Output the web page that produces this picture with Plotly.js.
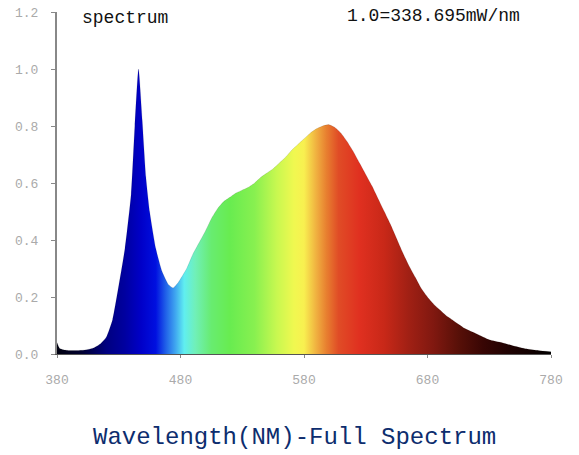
<!DOCTYPE html>
<html>
<head>
<meta charset="utf-8">
<script src="https://cdn.plot.ly/plotly-3.0.1.min.js"></script>
<style>html,body{margin:0;padding:0;background:#fff;}#chart{width:579px;height:455px;}</style>
</head>
<body>
<div id="chart"></div>
<script>
// Wavelength (nm) and relative spectral power
var wavelengths = [380,382,385,390,395,400,405,410,415,420,425,430,435,440,443,446,449,452,455,460,465,470,474,478,485,490,495,500,505,510,515,520,525,530,535,540,545,550,555,560,565,570,575,580,585,590,595,600,605,610,615,620,625,630,635,640,645,650,655,660,665,670,675,680,685,690,695,700,710,720,730,740,750,760,770,780];
var power = [0.04,0.02,0.015,0.012,0.012,0.013,0.016,0.022,0.035,0.06,0.12,0.24,0.37,0.56,0.80,1.00,0.82,0.62,0.50,0.37,0.29,0.245,0.232,0.25,0.30,0.35,0.39,0.43,0.475,0.51,0.535,0.55,0.565,0.575,0.585,0.60,0.62,0.635,0.65,0.67,0.69,0.715,0.735,0.755,0.775,0.79,0.80,0.805,0.795,0.775,0.745,0.71,0.67,0.63,0.59,0.545,0.50,0.455,0.405,0.355,0.31,0.27,0.23,0.20,0.175,0.155,0.135,0.12,0.09,0.07,0.05,0.04,0.028,0.018,0.012,0.008];

// Spectrum colour stops
var gradWl = [380,400,420,435,448,460,468,476,483,492,505,520,540,558,572,580,590,598,608,625,645,665,685,705,725,745,765,780];
var gradColors = ['#000010','#000030','#000080','#0000a0','#0000c8','#0010e0','#2060e8','#40a8f0','#60eef0','#70f0b8','#68ec70','#68ec50','#88f050','#c8f850','#f0f850','#f8f050','#f0b040','#e88030','#e04c26','#e03020','#c82818','#a02014','#801810','#581008','#380604','#200202','#100000','#000000'];

var tickVals = [380,480,580,680,780];
var tickText = ['380','480','580','680','780'];
var yTickVals = [0,0.2,0.4,0.6,0.8,1.0,1.2];
var yTickText = ['0.0','0.2','0.4','0.6','0.8','1.0','1.2'];

var xMin = 380, xMax = 780;
var colorscale = gradWl.map(function(w,i){ return [(w - xMin)/(xMax - xMin), gradColors[i]]; });

var trace = {
  x: wavelengths,
  y: power,
  type: 'scatter',
  mode: 'lines',
  line: {color: 'rgba(0,0,0,0.15)', width: 0.7, shape: 'spline', smoothing: 0.5},
  fill: 'tozeroy',
  fillgradient: {type: 'horizontal', colorscale: colorscale, start: xMin, stop: xMax},
  hoverinfo: 'skip'
};

var layout = {
  width: 579, height: 455,
  margin: {l: 57, r: 28, t: 12, b: 101},
  paper_bgcolor: '#fff', plot_bgcolor: '#fff',
  showlegend: false,
  xaxis: {
    range: [xMin, xMax], tickvals: tickVals, ticktext: tickText,
    showgrid: false, zeroline: false,
    showline: true, linecolor: '#555', linewidth: 1,
    ticks: 'outside', ticklen: 3, tickcolor: '#888',
    ticklabelstandoff: 10,
    tickfont: {family: 'Liberation Mono, monospace', size: 13, color: '#aaaaaa'}
  },
  yaxis: {
    range: [0, 1.2], tickvals: yTickVals, ticktext: yTickText,
    showgrid: false, zeroline: false,
    showline: true, linecolor: '#888', linewidth: 2,
    ticks: 'outside', ticklen: 4, tickcolor: '#888',
    ticklabelstandoff: 10,
    tickfont: {family: 'Liberation Mono, monospace', size: 13, color: '#aaaaaa'}
  },
  annotations: [
    {text: 'spectrum', xref: 'paper', yref: 'paper', x: 0.046, y: 0.982, xanchor: 'left', yanchor: 'middle', showarrow: false,
     font: {family: 'Liberation Mono, monospace', size: 18, color: '#111'}},
    {text: '1.0=338.695mW/nm', xref: 'paper', yref: 'paper', x: 0.583, y: 0.988, xanchor: 'left', yanchor: 'middle', showarrow: false,
     font: {family: 'Liberation Mono, monospace', size: 18, color: '#111'}},
    {text: 'Wavelength(NM)-Full Spectrum', xref: 'paper', yref: 'paper', x: 0.481, y: -0.243, xanchor: 'center', yanchor: 'middle', showarrow: false,
     font: {family: 'Liberation Mono, monospace', size: 24, color: '#0d2d6e'}}
  ]
};

Plotly.newPlot('chart', [trace], layout, {displayModeBar: false, staticPlot: true});
</script>
</body>
</html>
